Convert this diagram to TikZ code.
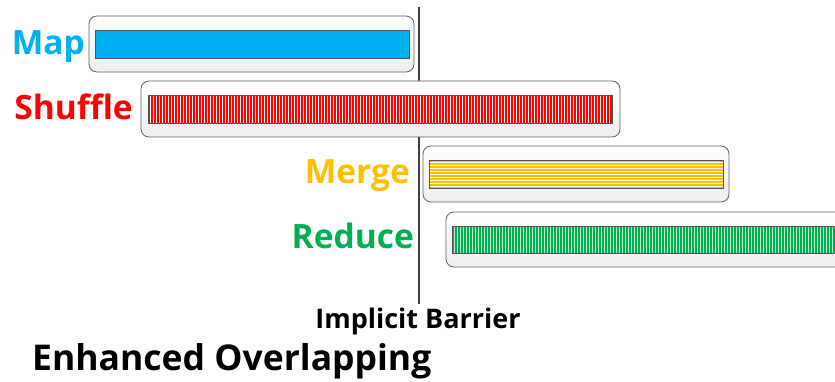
\documentclass[tikz,border=0pt]{standalone}
\usepackage{fontspec}
\setmainfont[Ligatures={NoCommon}]{Open Sans}
\definecolor{mapblue}{HTML}{00B0F0}
\definecolor{shufred}{HTML}{FF0000}
\definecolor{mergegold}{HTML}{FFC000}
\definecolor{redgreen}{HTML}{00B050}
\definecolor{barrierline}{HTML}{404040}
\tikzset{
  phasebox/.style={draw=gray!75!black, line width=0.8pt, rounded corners=8pt,
    top color=white, bottom color=gray!13, inner sep=0pt, outer sep=0pt,
    anchor=north west},
  barframe/.style={draw=gray!65!black, line width=0.6pt},
  phaselabel/.style={font=\bfseries\fontsize{33.5}{38}\selectfont, anchor=base east, inner sep=0pt},
  stripe/.style={white, line width=0.9pt}
}
\begin{document}
\begin{tikzpicture}[x=1pt, y=-1pt]
  \useasboundingbox (0,0) rectangle (835,382);
  \clip (0,0) rectangle (835,382);

  % barrier line (behind the phase boxes)
  \coordinate (bartop) at (419,7);
  \node[font=\bfseries\fontsize{27}{31}\selectfont, anchor=base, inner sep=0pt] (barlabel) at (418,328) {Implicit Barrier};
  \draw[barrierline, line width=2.7pt] (bartop) -- (419,304);

  % Map
  \node[phasebox, minimum width=325pt, minimum height=56pt] (mapbox) at (89,16) {};
  \fill[mapblue] (95,30) rectangle (409,58);
  \draw[barframe] (95,30) rectangle (409,58);
  \node[phaselabel, text=mapblue] (maplbl) at (85,55) {Map};

  % Shuffle
  \node[phasebox, minimum width=479pt, minimum height=56pt] (shufbox) at (141,81) {};
  \fill[shufred] (148,95) rectangle (612,123);
  \foreach \x in {150,153,...,611} \draw[stripe] (\x,95) -- (\x,123);
  \draw[barframe] (148,95) rectangle (612,123);
  \node[phaselabel, text=shufred] (shuflbl) at (133,120) {Shuffle};

  % Merge
  \node[phasebox, minimum width=306pt, minimum height=56pt] (mergebox) at (423,146) {};
  \fill[mergegold] (429,160) rectangle (723,188);
  \foreach \y in {162.5,165.5,...,187} \draw[stripe] (429,\y) -- (723,\y);
  \draw[barframe] (429,160) rectangle (723,188);
  \node[phaselabel, text=mergegold] (mergelbl) at (410,184) {Merge};

  % Reduce
  \node[phasebox, minimum width=420pt, minimum height=55pt] (redbox) at (446,212) {};
  \fill[redgreen] (452,226) rectangle (850,253);
  \foreach \x in {454,457,...,835} \draw[stripe, white!75!redgreen] (\x,226) -- (\x,253);
  \draw[barframe] (452,226) rectangle (850,253);
  \node[phaselabel, text=redgreen] (redlbl) at (414,248) {Reduce};

  % caption
  \node[font=\bfseries\fontsize{35.5}{41}\selectfont, anchor=base west, inner sep=0pt] (caption) at (32,370) {Enhanced Overlapping};
\end{tikzpicture}
\end{document}
